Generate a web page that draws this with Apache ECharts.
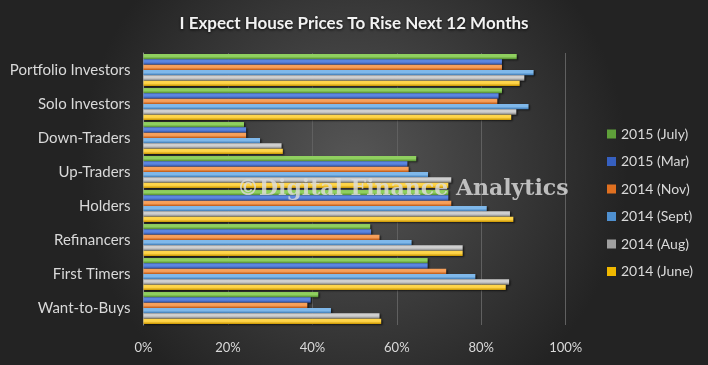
<!DOCTYPE html>
<html><head><meta charset="utf-8">
<script src="https://cdn.jsdelivr.net/npm/echarts@6/dist/echarts.min.js"></script>
<style>html,body{margin:0;padding:0;background:#2b2b2b}#c{width:708px;height:365px}</style>
</head><body><div id="c"></div>
<script>
const categories = ["Portfolio Investors","Solo Investors","Down-Traders","Up-Traders","Holders","Refinancers","First Timers","Want-to-Buys"];
const seriesNames = ["2015 (July)","2015 (Mar)","2014 (Nov)","2014 (Sept)","2014 (Aug)","2014 (June)"];
const jul15 = [88.4, 84.9, 23.8, 64.6, 72.2, 53.7, 67.3, 41.4];
const mar15 = [84.9, 84.1, 24.3, 62.5, 72.2, 53.9, 67.3, 39.6];
const nov14 = [84.9, 83.8, 24.3, 62.8, 72.9, 55.9, 71.7, 38.8];
const sep14 = [92.4, 91.2, 27.6, 67.4, 81.3, 63.5, 78.6, 44.4];
const aug14 = [90.2, 88.3, 32.7, 72.9, 86.8, 75.6, 86.6, 55.9];
const jun14 = [89.1, 87.1, 33.0, 72.2, 87.6, 75.6, 85.8, 56.3];
const xTicks = [0, 20, 40, 60, 80, 100];
const seriesData = [jul15, mar15, nov14, sep14, aug14, jun14];
const colors = [["#8fcf5f","#4f8a2c"],["#5b86e0","#2d4fa0"],["#f7a05a","#c25a15"],["#7fb8ea","#3a78b5"],["#cfcfcf","#808080"],["#ffd54a","#c99400"]];
const legendColors = ["#5fa03a","#3660c0","#e07020","#4f90d0","#a0a0a0","#f0b800"];

const chart = echarts.init(document.getElementById('c'));
const font = 'Lato, "Open Sans", sans-serif';
chart.setOption({
  backgroundColor: {type:'radial', x:0.5, y:0.45, r:0.75, colorStops:[{offset:0,color:'#565656'},{offset:1,color:'#232323'}]},
  animation:false,
  title:{text:'I Expect House Prices To Rise Next 12 Months', left:'center', top:10,
    textStyle:{color:'#f2f2f2', fontSize:17, fontWeight:'bold', fontFamily:font, textShadowColor:'rgba(0,0,0,0.8)', textShadowBlur:3, textShadowOffsetY:1}},
  legend:{orient:'vertical', left:602, top:122, itemWidth:9, itemHeight:9, itemGap:13.5,
    icon:'rect', textStyle:{color:'#d9d9d9', fontSize:14, fontFamily:font, lineHeight:14},
    data: seriesNames.map((n,i)=>({name:n, itemStyle:{color:legendColors[i]}}))},
  grid:{left:143.5, right:142.3, top:53, bottom:40},
  xAxis:{type:'value', min:xTicks[0], max:xTicks[xTicks.length-1], interval:20,
    axisLabel:{formatter:'{value}%', color:'#d9d9d9', fontSize:13, fontFamily:font, margin:16},
    splitLine:{lineStyle:{color:'#606060', width:1}}, axisLine:{show:false}, axisTick:{show:false}},
  yAxis:{type:'category', data:categories, inverse:true,
    axisLabel:{color:'#d9d9d9', fontSize:15, fontFamily:font, margin:13},
    axisLine:{lineStyle:{color:'#8c8c8c'}}, axisTick:{show:false}},
  series: seriesNames.map((n,i)=>({
    name:n, type:'bar', data:seriesData[i], barGap:'0%', barCategoryGap:'6%',
    itemStyle:{color:{type:'linear',x:0,y:0,x2:0,y2:1,colorStops:[{offset:0,color:colors[i][0]},{offset:0.5,color:colors[i][0]},{offset:1,color:colors[i][1]}]},
      shadowColor:'rgba(0,0,0,0.6)', shadowBlur:2, shadowOffsetX:1.5, shadowOffsetY:1}
  })),
  graphic:[{type:'text', left:237, top:178, z:100, style:{text:'©Digital Finance Analytics', font:'bold 22px "DejaVu Serif", serif', fill:'rgba(220,220,220,0.82)'}}]
});
</script></body></html>
